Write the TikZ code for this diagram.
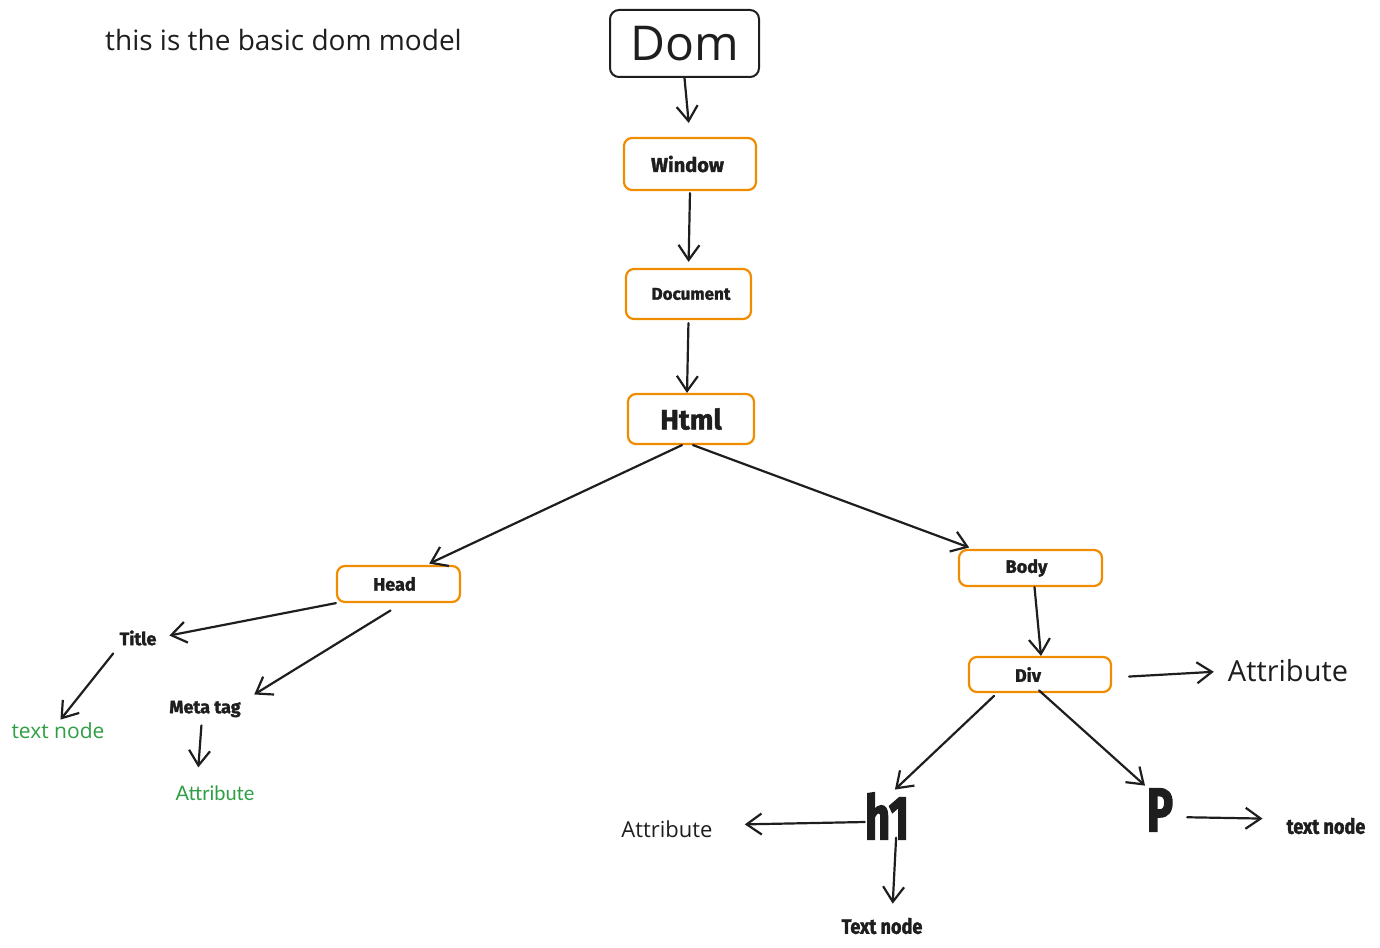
\documentclass[tikz,border=0pt]{standalone}
\usepackage{fontspec}
\setmainfont{Open Sans}
\newfontfamily\hand{Open Sans}
\newfontfamily\lbl[FakeBold=1.6]{Fira Sans}
\newfontfamily\lblc[FakeStretch=0.86,FakeBold=1.6]{Fira Sans}
\newfontfamily\lblbig[FakeStretch=0.7,FakeBold=2]{Fira Sans}
\newfontfamily\round{Lato}
\usetikzlibrary{arrows.meta,calc}
\definecolor{ink}{HTML}{1E1E1E}
\definecolor{orng}{HTML}{F08C00}
\definecolor{grn}{HTML}{2F9E44}
\tikzset{
  box/.style={draw=orng, line width=2.2pt, rounded corners=8pt, fill=white, text=ink,
    font=\lbl\bfseries\fontsize{18}{20}\selectfont, inner sep=0pt},
  lab/.style={text=ink, font=\lbl\bfseries\fontsize{18}{20}\selectfont, inner sep=0pt},
  handtxt/.style={text=ink, font=\hand\fontsize{22}{26}\selectfont, inner sep=0pt},
  arr/.style={draw=ink, line width=2.2pt, line cap=round,
    -{Straight Barb[length=15pt,width=21pt,line width=2.2pt]}},
}
\begin{document}
\begin{tikzpicture}[x=1pt,y=-1pt]
\useasboundingbox (0,0) rectangle (1380,947);
% title text
\node[handtxt, anchor=west, font=\hand\fontsize{28}{30}\selectfont] (caption) at (105,40) {this is the basic dom model};
% Dom box
\node[draw=ink, line width=2pt, rounded corners=9pt, minimum width=149pt, minimum height=67pt,
  text=ink, font=\hand\fontsize{48}{50}\selectfont, inner sep=0pt] (dom) at (684.5,43.5) {Dom};
% main boxes
\node[box, minimum width=132pt, minimum height=52pt, font=\lbl\bfseries\fontsize{20}{22}\selectfont] (window) at (690,164) {Window\hspace*{5pt}};
\node[box, minimum width=125pt, minimum height=50pt, font=\lbl\bfseries\fontsize{17}{20}\selectfont] (document) at (688.5,294) {\hspace*{5pt}Document};
\node[box, minimum width=126pt, minimum height=50pt, font=\lbl\bfseries\fontsize{28}{30}\selectfont] (html) at (691,419) {Html};
\node[box, minimum width=123pt, minimum height=36pt] (head) at (398.5,584) {Head\hspace*{8pt}};
\node[box, minimum width=143pt, minimum height=36pt] (body) at (1030.5,568) {Body\hspace*{8pt}};
\node[box, minimum width=142pt, minimum height=35pt] (div) at (1040,674.5) {Div\hspace*{24pt}};
% head children
\node[lab] (title) at (138,638) {Title};
\node[lab] (meta) at (205,709) {Meta tag};
\node[text=grn, font=\hand\fontsize{21}{24}\selectfont, inner sep=0pt] (tn1) at (58,731) {text node};
\node[text=grn, font=\round\fontsize{20}{22}\selectfont, inner sep=0pt] (attr1) at (215,793) {Attribute};
% div children
\node[handtxt, font=\hand\fontsize{29}{32}\selectfont] (attr2) at (1288,671) {Attribute};
\node[lab, font=\lblbig\bfseries\fontsize{62}{64}\selectfont] (h1) at (887,816) {h1};
\node[lab, font=\lblbig\bfseries\fontsize{62}{64}\selectfont] (p) at (1160,810) {P};
\node[handtxt, font=\hand\fontsize{22}{24}\selectfont] (attr3) at (667,829) {Attribute};
\node[lab, font=\lblc\bfseries\fontsize{21}{24}\selectfont] (tn2) at (882,926) {Text node};
\node[lab, font=\lblc\bfseries\fontsize{21}{24}\selectfont] (tn3) at (1326,826) {text node};
% connectors
\draw[arr, shorten >=14pt] (dom.south) -- (window.north);
\draw[arr, shorten >=6pt, shorten <=2pt] (window.south) -- (document.north);
\draw[arr, shorten <=3pt] (document.south) -- ([xshift=-4pt]html.north);
\draw[arr, shorten >=3pt] ([xshift=-9pt]html.south) -- ([xshift=28pt]head.north);
\draw[arr, shorten >=4pt] ([xshift=2pt]html.south) -- ([xshift=15pt]body.north west);
\draw[arr, shorten >=13pt] (head.south west) -- (title.east);
\draw[arr, shorten <=14pt, shorten >=4pt] ([xshift=4pt]head.south) -- ([xshift=10pt,yshift=4pt]meta.north east);
\draw[arr, shorten <=10pt, shorten >=4pt] (title.south west) -- (tn1.north);
\draw[arr, shorten <=8pt, shorten >=18pt] ([xshift=-3pt]meta.south) -- ([xshift=-18pt]attr1.north);
\draw[arr] ([xshift=4pt]body.south) -- ([xshift=1pt]div.north);
\draw[arr, shorten <=17pt, shorten >=14pt] ([yshift=-3pt]div.east) -- (attr2.west);
\draw[arr, shorten <=4pt, shorten >=4pt] ([xshift=-43pt]div.south) -- ([xshift=5pt]h1.north);
\draw[arr, shorten <=-4pt, shorten >=4pt] ([xshift=2pt]div.south) -- ([xshift=-12pt]p.north);
\draw[arr, shorten >=32pt] ([yshift=-6pt]h1.west) -- ([yshift=4pt]attr3.east);
\draw[arr, shorten <=-2pt, shorten >=14pt] ([xshift=9pt]h1.south) -- ([xshift=10pt]tn2.north);
\draw[arr, shorten <=14pt, shorten >=24pt] ([yshift=-7pt]p.east) -- ([yshift=7pt]tn3.west);
\end{tikzpicture}
\end{document}
